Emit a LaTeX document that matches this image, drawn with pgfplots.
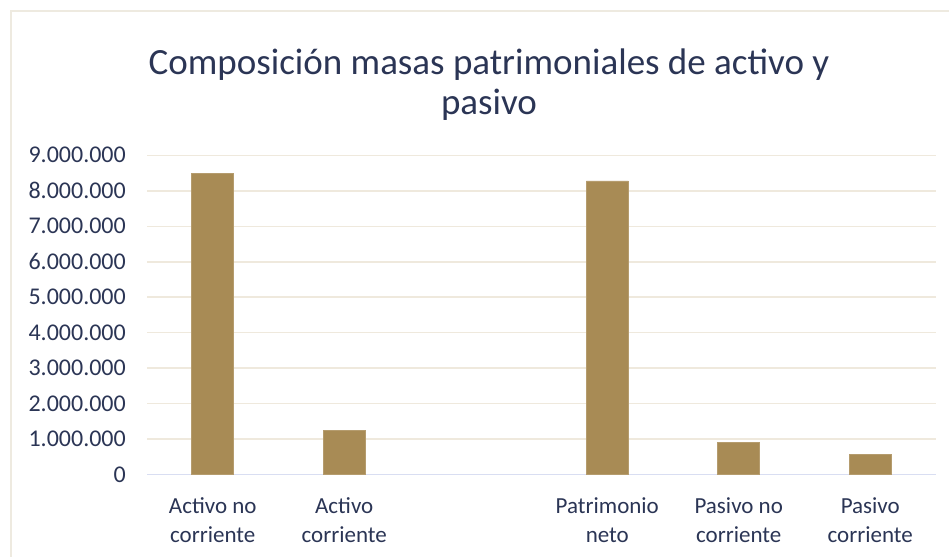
\documentclass[border=0pt]{standalone}
\usepackage{pgfplots}
\pgfplotsset{compat=1.18}
\usepackage{fontspec}
\setmainfont{Carlito}
\definecolor{barc}{HTML}{A88B55}
\definecolor{gridc}{HTML}{EFE9DD}
\definecolor{axisc}{HTML}{D9DEF2}
\definecolor{txt}{HTML}{2B3555}
\definecolor{borderc}{HTML}{EEEAE0}
\begin{document}
\begin{tikzpicture}[x=1bp,y=1bp]
\path[use as bounding box] (0,0) rectangle (949,557);
\draw[borderc, line width=1.5bp] (11,0) -- (11,546) -- (949,546);
\node[txt, anchor=base, font=\fontsize{37bp}{44bp}\selectfont] at (489,482) {Composición masas patrimoniales de activo y};
\node[txt, anchor=base, font=\fontsize{37bp}{44bp}\selectfont] at (489,442) {pasivo};
\begin{axis}[
  at={(147bp,82.3bp)}, anchor=south west,
  scale only axis, width=789bp, height=319.4bp,
  xmin=-0.5, xmax=5.5, ymin=0, ymax=9000000,
  ytick distance=1000000,
  xtick={0,1,2,3,4,5},
  xticklabels={{Activo no\\corriente},{Activo\\corriente},{},{Patrimonio\\neto},{Pasivo no\\corriente},{Pasivo\\corriente}},
  major tick length=0pt,
  axis x line*=bottom, axis y line*=left,
  x axis line style={draw=axisc, line width=1bp, -},
  y axis line style={draw=none},
  ymajorgrids, grid style={draw=gridc, line width=1.5bp},
  scaled y ticks=false,
  /pgf/number format/assume math mode=true,
  yticklabel style={/pgf/number format/.cd, fixed, 1000 sep={.}, /tikz/.cd, txt, font=\fontsize{24bp}{29bp}\selectfont, anchor=east, inner sep=0pt, xshift=-21bp},
  xticklabel style={txt, align=center, font=\fontsize{23bp}{29bp}\selectfont, anchor=north, inner sep=0pt, yshift=-23bp},
  ybar, bar width=42bp,
]
\addplot[fill=barc, draw=barc!85!white, line width=0.6bp] coordinates {(0,8490000) (1,1250000) (3,8280000) (4,920000) (5,575000)};
\end{axis}
\end{tikzpicture}
\end{document}
